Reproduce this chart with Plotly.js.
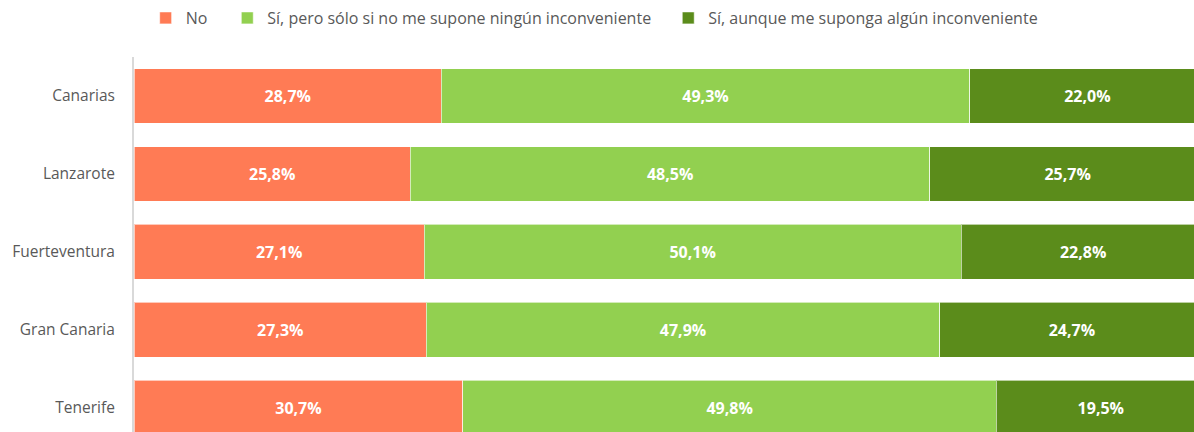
<!DOCTYPE html>
<html>
<head>
<meta charset="utf-8">
<script src="https://cdn.plot.ly/plotly-3.0.1.min.js"></script>
<style>html,body{margin:0;padding:0;background:#fff;}#chart{width:1194px;height:432px;}</style>
</head>
<body>
<div id="chart"></div>
<script>
const categories = ["Tenerife", "Gran Canaria", "Fuerteventura", "Lanzarote", "Canarias"];
const seriesNames = ["No", "Sí, pero sólo si no me supone ningún inconveniente", "Sí, aunque me suponga algún inconveniente"];
const valuesNo = [30.7, 27.3, 27.1, 25.8, 28.7];
const valuesSiPero = [49.8, 47.9, 50.1, 48.5, 49.3];
const valuesSiAunque = [19.5, 24.7, 22.8, 25.7, 22.0];
const colors = ["#FF7B55", "#92D050", "#5B8C1B"];

const allValues = [valuesNo, valuesSiPero, valuesSiAunque];
const legendNames = ["legend", "legend2", "legend3"];
const labelFont = {family: "Open Sans, sans-serif", size: 16, color: "#ffffff", weight: "bold"};
const traces = allValues.map((vals, i) => ({
  type: "bar",
  orientation: "h",
  name: seriesNames[i],
  y: categories,
  x: vals,
  marker: {color: colors[i], line: {color: "rgba(255,255,255,0.6)", width: 1}},
  texttemplate: "%{x:.1f}%",
  textposition: "inside",
  insidetextanchor: "middle",
  textfont: labelFont,
  insidetextfont: labelFont,
  constraintext: "none",
  hoverinfo: "skip",
  legend: legendNames[i],
  cliponaxis: true
}));

const legendFont = {family: "Open Sans, sans-serif", size: 16, color: "#595959"};
const legendBase = {orientation: "h", yanchor: "middle", y: 1.104, xanchor: "left", font: legendFont, bgcolor: "rgba(0,0,0,0)", itemwidth: 30, traceorder: "normal"};

const layout = {
  width: 1194,
  height: 432,
  margin: {l: 134, r: 0, t: 57, b: 0, pad: 0, autoexpand: false},
  paper_bgcolor: "#ffffff",
  plot_bgcolor: "#ffffff",
  barmode: "stack",
  bargap: 0.295,
  separators: ",.",
  showlegend: true,
  legend: Object.assign({}, legendBase, {x: 0.011}),
  legend2: Object.assign({}, legendBase, {x: 0.088}),
  legend3: Object.assign({}, legendBase, {x: 0.504}),
  xaxis: {range: [0, 98.95], showgrid: false, zeroline: false, showticklabels: false, showline: false, fixedrange: true},
  yaxis: {
    type: "category",
    range: [-0.308, 4.5],
    showgrid: false,
    zeroline: false,
    showline: true,
    linecolor: "#D9D9D9",
    linewidth: 2,
    ticks: "",
    ticklabelstandoff: 14,
    tickfont: {family: "Open Sans, sans-serif", size: 15.5, color: "#595959"},
    fixedrange: true
  }
};

Plotly.newPlot("chart", traces, layout, {displayModeBar: false, staticPlot: true});
</script>
</body>
</html>
